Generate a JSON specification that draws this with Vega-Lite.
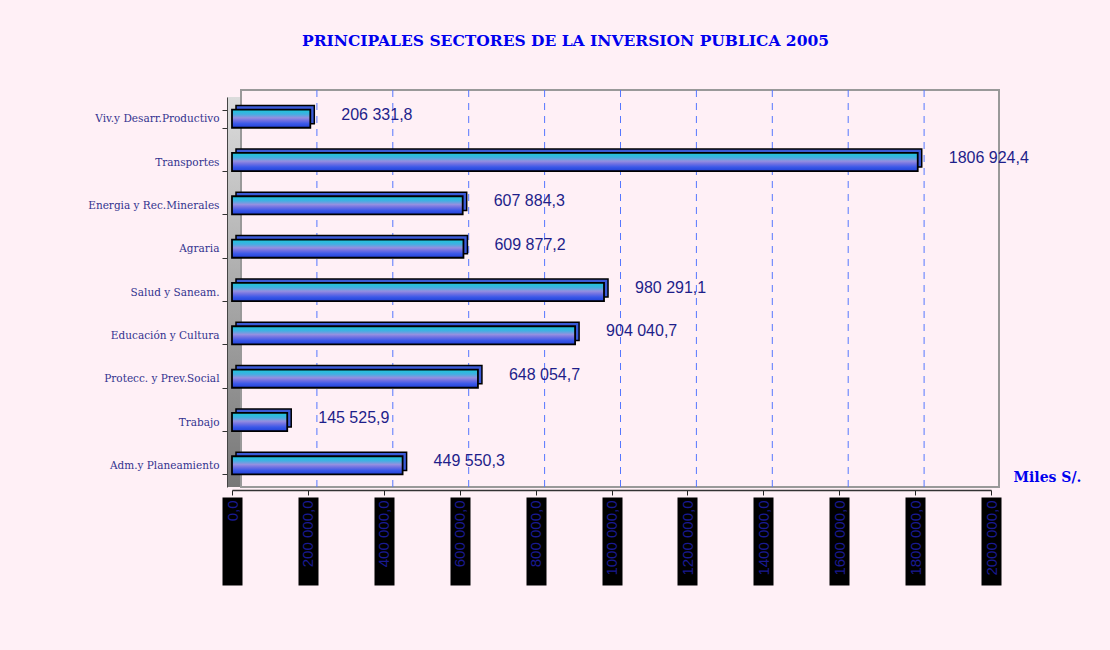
{
  "$schema": "https://vega.github.io/schema/vega-lite/v6.json",
  "autosize": {"type": "none"},
  "width": 759,
  "height": 390,
  "padding": {"left": 232, "top": 97, "right": 119, "bottom": 163},
  "background": "#fff0f6",
  "config": {
    "view": {"stroke": null},
    "locale": {"number": {"decimal": ",", "thousands": " ", "grouping": [3, 9], "currency": ["", ""]}}
  },
  "title": {
    "text": "PRINCIPALES SECTORES DE LA INVERSION PUBLICA 2005",
    "font": "DejaVu Serif",
    "fontSize": 15.5,
    "fontWeight": "bold",
    "color": "#0000ee",
    "anchor": "middle",
    "frame": "group",
    "dx": -46,
    "offset": 40
  },
  "datasets": {
    "sectors": [
      {"sector": "Viv.y Desarr.Productivo", "value": 206331.8},
      {"sector": "Transportes", "value": 1806924.4},
      {"sector": "Energia y Rec.Minerales", "value": 607884.3},
      {"sector": "Agraria", "value": 609877.2},
      {"sector": "Salud y Saneam.", "value": 980291.1},
      {"sector": "Educación y Cultura", "value": 904040.7},
      {"sector": "Protecc. y Prev.Social", "value": 648054.7},
      {"sector": "Trabajo", "value": 145525.9},
      {"sector": "Adm.y Planeamiento", "value": 449550.3}
    ],
    "grid": [
      {"tick": 200000}, {"tick": 400000}, {"tick": 600000}, {"tick": 800000},
      {"tick": 1000000}, {"tick": 1200000}, {"tick": 1400000}, {"tick": 1600000}, {"tick": 1800000}
    ],
    "wall": [{"a": 0, "b": 2000000}]
  },
  "resolve": {"axis": {"x": "independent"}},
  "layer": [
    {
      "data": {"name": "wall"},
      "mark": {
        "type": "rect",
        "xOffset": -5,
        "x2Offset": 9,
        "fill": {"gradient": "linear", "x1": 0, "y1": 0, "x2": 0, "y2": 1,
          "stops": [{"offset": 0, "color": "#dcdcdc"}, {"offset": 1, "color": "#777777"}]}
      },
      "encoding": {
        "x": {"field": "a", "type": "quantitative", "scale": {"domain": [0, 2000000], "nice": false}, "axis": null},
        "x2": {"field": "a"}
      }
    },
    {
      "data": {"name": "wall"},
      "mark": {
        "type": "rect",
        "fillOpacity": 0,
        "stroke": "#999999",
        "strokeWidth": 2,
        "xOffset": 9,
        "x2Offset": 8,
        "yOffset": -7,
        "y2Offset": -9
      },
      "encoding": {
        "x": {"field": "a", "type": "quantitative", "axis": null},
        "x2": {"field": "b"}
      }
    },
    {
      "data": {"name": "grid"},
      "mark": {"type": "rule", "color": "#5577ff", "strokeWidth": 1, "strokeDash": [7, 6], "xOffset": 9, "yOffset": -7, "y2Offset": -9},
      "encoding": {
        "x": {"field": "tick", "type": "quantitative", "axis": null}
      }
    },
    {
      "data": {"name": "sectors"},
      "encoding": {
        "y": {
          "field": "sector", "type": "nominal", "sort": null,
          "scale": {"paddingInner": 0.58, "paddingOuter": 0.29},
          "axis": {
            "title": null,
            "offset": 5,
            "zindex": 1,
            "tickBand": "extent",
            "tickSize": 5,
            "tickColor": "#333333",
            "domainColor": "#444444",
            "labelFont": "DejaVu Serif",
            "labelFontSize": 10.5,
            "labelColor": "#33338f",
            "labelPadding": 3
          }
        }
      },
      "resolve": {"axis": {"x": "independent"}},
      "layer": [
        {
          "mark": {"type": "bar", "fill": "#3a5ad8", "stroke": "#000000", "strokeWidth": 1.5, "xOffset": 4, "yOffset": -4},
          "encoding": {
            "x": {
              "field": "value", "type": "quantitative",
              "axis": {
                "orient": "bottom",
                "zindex": 1,
                "values": [0, 200000, 400000, 600000, 800000, 1000000, 1200000, 1400000, 1600000, 1800000, 2000000],
                "title": null,
                "grid": false,
                "domain": false,
                "labels": false,
                "ticks": true,
                "offset": 10,
                "tickSize": 88,
                "tickWidth": 20,
                "tickColor": "#000000",
                "tickOpacity": 1
              }
            }
          }
        },
        {
          "mark": {
            "type": "bar",
            "stroke": "#000000",
            "strokeWidth": 1.8,
            "fill": {"gradient": "linear", "x1": 0, "y1": 0, "x2": 0, "y2": 1,
              "stops": [
                {"offset": 0, "color": "#18c8d8"},
                {"offset": 0.25, "color": "#40b0e2"},
                {"offset": 0.45, "color": "#9490e0"},
                {"offset": 0.6, "color": "#7070e2"},
                {"offset": 0.78, "color": "#3a58e8"},
                {"offset": 1, "color": "#2040d8"}
              ]}
          },
          "encoding": {
            "x": {"field": "value", "type": "quantitative", "axis": null}
          }
        },
        {
          "mark": {"type": "text", "align": "left", "baseline": "middle", "dx": 31, "dy": -4, "font": "Liberation Sans", "fontSize": 16, "color": "#1e1e8a"},
          "encoding": {
            "x": {
              "field": "value", "type": "quantitative",
              "axis": {
                "orient": "bottom",
                "zindex": 2,
                "values": [0, 200000, 400000, 600000, 800000, 1000000, 1200000, 1400000, 1600000, 1800000, 2000000],
                "format": ",.1f",
                "grid": false,
                "offset": 3,
                "domainColor": "#333333",
                "domainWidth": 1.5,
                "tickColor": "#222222",
                "tickSize": 5,
                "labelAngle": 270,
                "labelAlign": "right",
                "labelBaseline": "middle",
                "labelPadding": 5,
                "labelFont": "Liberation Sans",
                "labelFontSize": 15,
                "labelColor": "#1a1a90",
                "labelOverlap": false,
                "labelBound": false,
                "labelFlush": false,
                "title": "Miles S/.",
                "titleFont": "DejaVu Serif",
                "titleFontSize": 14,
                "titleFontWeight": "bold",
                "titleColor": "#0000ee",
                "titleAngle": 0,
                "titleAlign": "left",
                "titleBaseline": "alphabetic",
                "titleX": 781,
                "titleY": -9
              }
            },
            "text": {"field": "value", "type": "quantitative", "format": ",.1f"}
          }
        }
      ]
    }
  ]
}
